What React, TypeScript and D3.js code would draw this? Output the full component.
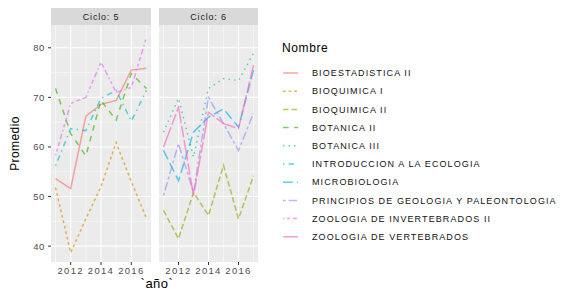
import React from 'react';
import * as d3 from 'd3';

// years on the x axis
const years = [2011, 2012, 2013, 2014, 2015, 2016, 2017];

// course names (legend order) and which cycle they belong to
const courses = [
    'BIOESTADISTICA II',
    'BIOQUIMICA I',
    'BIOQUIMICA II',
    'BOTANICA II',
    'BOTANICA III',
    'INTRODUCCION A LA ECOLOGIA',
    'MICROBIOLOGIA',
    'PRINCIPIOS DE GEOLOGIA Y PALEONTOLOGIA',
    'ZOOLOGIA DE INVERTEBRADOS II',
    'ZOOLOGIA DE VERTEBRADOS',
];
const courseCycle = [5, 5, 6, 5, 6, 5, 6, 6, 5, 6];

// average grade per year
const bioestadisticaII = [53.6, 51.6, 66.2, 68.6, 69.4, 75.5, 75.9];
const bioquimicaI = [51.8, 38.7, 45.5, 52, 60.9, 53, 45.6];
const bioquimicaII = [47.2, 41.5, 50.8, 46.2, 56.3, 45.5, 54.2];
const botanicaII = [71.8, 62.7, 58.2, 69.4, 65.4, 74.8, 71.8];
const botanicaIII = [63, 69.8, 58, 71.8, 73.8, 73.4, 78.9];
const introEcologia = [56.2, 63.7, 63.3, 69.8, 71.4, 65.2, 71.4];
const microbiologia = [59.3, 53.2, 63, 66, 67.7, 64, 75.5];
const principiosGeologia = [50.2, 60.7, 50.8, 70, 64.7, 59.3, 66.8];
const zoologiaInvII = [58.3, 68.8, 70, 77.1, 71, 72, 82.1];
const zoologiaVert = [60, 68, 50.2, 67, 64.7, 63.7, 76.5];

const courseValues = [
    bioestadisticaII, bioquimicaI, bioquimicaII, botanicaII, botanicaIII,
    introEcologia, microbiologia, principiosGeologia, zoologiaInvII, zoologiaVert,
];

const yTicks = [40, 50, 60, 70, 80];
const yMinor = [45, 55, 65, 75];
const xTicks = [2012, 2014, 2016];
const xMinor = [2011, 2013, 2015, 2017];

// ggplot hue palette and linetype palette
const colors = ['#F8766D', '#D89000', '#A3A500', '#39B600', '#00BF7D',
    '#00BFC4', '#00B0F6', '#9590FF', '#E76BF3', '#FF62BC'];
const linetypes = [[], [2, 2], [4, 2], [4, 4], [1, 3], [1, 3, 4, 3], [7, 3],
    [2, 2, 6, 2], [1, 2, 2, 2, 3, 2, 4, 2], [15, 2, 8, 2]];

const font = '"Liberation Sans", Arial, sans-serif';
const dashUnit = 1.4;
const dash = (lt: number[]) => lt.length ? lt.map(d => d * dashUnit).join(',') : undefined;

const panels = [
    { cycle: 5, x0: 51, x1: 151 },
    { cycle: 6, x0: 159, x1: 258 },
];
const top = 25;
const bottom = 262;
const stripTop = 8;

const y = d3.scaleLinear().domain([36.8, 84.6]).range([bottom, top]);

const App: React.FC = () => {
    return (
        <svg width={573} height={290} style={{ position: 'absolute', left: 0, top: 0 }}
            fontFamily={font}>
            <rect width={573} height={290} fill="#fff" />
            {panels.map(p => {
                const x = d3.scaleLinear()
                    .domain([2011 - 0.3, 2017 + 0.3])
                    .range([p.x0, p.x1]);
                const line = d3.line<number>()
                    .x((_, i) => x(years[i]))
                    .y(d => y(d));
                return (
                    <g key={p.cycle}>
                        <rect x={p.x0} y={stripTop} width={p.x1 - p.x0} height={top - stripTop} fill="#D9D9D9" />
                        <text x={(p.x0 + p.x1) / 2} y={(stripTop + top) / 2 + 3.5} textAnchor="middle"
                            fontSize={9} letterSpacing={0.8} fill="#1A1A1A">{`Ciclo: ${p.cycle}`}</text>
                        <rect x={p.x0} y={top} width={p.x1 - p.x0} height={bottom - top} fill="#EBEBEB" />
                        {yMinor.map(t => (
                            <line key={'ym' + t} x1={p.x0} x2={p.x1} y1={y(t)} y2={y(t)} stroke="#fff" strokeWidth={0.5} />
                        ))}
                        {xMinor.map(t => (
                            <line key={'xm' + t} x1={x(t)} x2={x(t)} y1={top} y2={bottom} stroke="#fff" strokeWidth={0.5} />
                        ))}
                        {yTicks.map(t => (
                            <line key={'y' + t} x1={p.x0} x2={p.x1} y1={y(t)} y2={y(t)} stroke="#fff" strokeWidth={1.1} />
                        ))}
                        {xTicks.map(t => (
                            <g key={'x' + t}>
                                <line x1={x(t)} x2={x(t)} y1={top} y2={bottom} stroke="#fff" strokeWidth={1.1} />
                                <line x1={x(t)} x2={x(t)} y1={bottom} y2={bottom + 3} stroke="#333" strokeWidth={1} />
                                <text x={x(t)} y={bottom + 12} textAnchor="middle" fontSize={9.5}
                                    letterSpacing={1.3} fill="#4D4D4D">{t}</text>
                            </g>
                        ))}
                        {courses.map((c, i) => courseCycle[i] === p.cycle ? (
                            <path key={c} d={line(courseValues[i]) || undefined} fill="none"
                                stroke={colors[i]} strokeOpacity={0.65} strokeWidth={1.5}
                                strokeDasharray={dash(linetypes[i])} />
                        ) : null)}
                    </g>
                );
            })}
            {/* y axis */}
            {yTicks.map(t => (
                <g key={'yt' + t}>
                    <line x1={48} x2={51} y1={y(t)} y2={y(t)} stroke="#333" strokeWidth={1} />
                    <text x={45} y={y(t) + 3.5} textAnchor="end" fontSize={9.5} letterSpacing={0.6}
                        fill="#4D4D4D">{t}</text>
                </g>
            ))}
            <text transform={`translate(19,${(top + bottom) / 2}) rotate(-90)`} textAnchor="middle"
                fontSize={12} letterSpacing={0.4} fill="#000">Promedio</text>
            <text x={157} y={288} textAnchor="middle" fontSize={13} letterSpacing={0.5} fill="#000">`año`</text>
            {/* legend */}
            <text x={282} y={52} fontSize={12} letterSpacing={0.6} fill="#000">Nombre</text>
            {courses.map((c, i) => {
                const cy = 73 + i * 18.2;
                return (
                    <g key={'lg' + c}>
                        <line x1={283} x2={298} y1={cy} y2={cy} stroke={colors[i]} strokeOpacity={0.65}
                            strokeWidth={1.5} strokeDasharray={dash(linetypes[i])} />
                        <text x={312} y={cy + 3.2} fontSize={9} letterSpacing={1.1} fill="#111">{c}</text>
                    </g>
                );
            })}
        </svg>
    );
};

export default App;
